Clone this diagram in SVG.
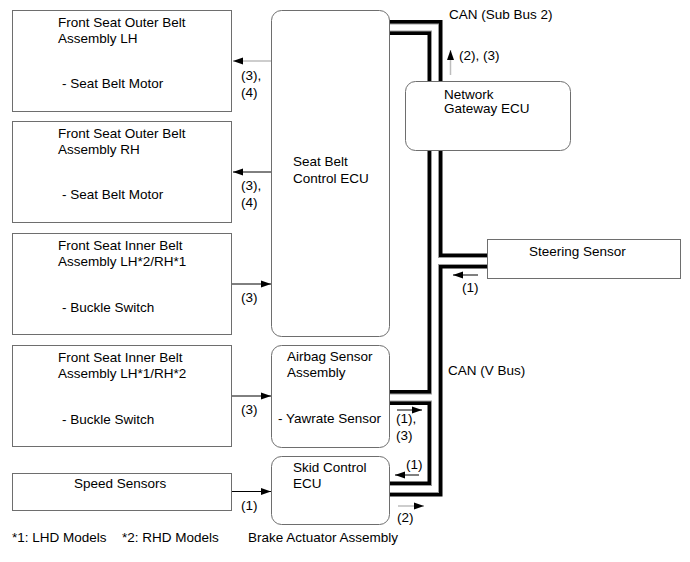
<svg xmlns="http://www.w3.org/2000/svg" width="690" height="562" viewBox="0 0 690 562">
<style>
text{font-family:"Liberation Sans",Arial,sans-serif;font-size:13.5px;fill:#000}
.box{fill:#fff;stroke:#6e6e6e;stroke-width:1}
.bk{fill:none;stroke:#000;stroke-width:15}
.gr{fill:none;stroke:#9a9a9a;stroke-width:8}
.wh{fill:none;stroke:#fff;stroke-width:6}
.a1{stroke:#000;stroke-width:1;fill:none}
.a2{stroke:#bdbdbd;stroke-width:1.5;fill:none}
</style>
<defs>
<marker id="ah" viewBox="0 0 10 8" refX="10" refY="4" markerWidth="10" markerHeight="8" markerUnits="userSpaceOnUse" orient="auto">
<path d="M0,0.5 L10,4 L0,7.5 Z" fill="#000"/>
</marker>
</defs>
<g id="connectors">
<g id="can-bus">
<path class="bk" d="M389,27.5 H435 V81"/><path class="bk" d="M435,150 V489 H389"/><path class="bk" d="M435,261 H487"/><path class="bk" d="M435,397.5 H389"/>
<path class="gr" d="M389,27.5 H435 V81"/><path class="gr" d="M435,150 V489 H389"/><path class="gr" d="M435,261 H487"/><path class="gr" d="M435,397.5 H389"/>
<path class="wh" d="M389,27.5 H435 V81"/><path class="wh" d="M435,150 V489 H389"/><path class="wh" d="M435,261 H487"/><path class="wh" d="M435,397.5 H389"/>
</g>
<path class="a2" d="M271,61 H233" marker-end="url(#ah)"/>
<path class="a1" d="M271,172 H233" marker-end="url(#ah)"/>
<path class="a1" d="M231,284 H271" marker-end="url(#ah)"/>
<path class="a1" d="M231,396 H271" marker-end="url(#ah)"/>
<path class="a1" d="M231,491.5 H271" marker-end="url(#ah)"/>
<path class="a2" d="M450.5,75 V50" marker-end="url(#ah)"/>
<path class="a1" d="M478,275 H453" marker-end="url(#ah)"/>
<path class="a1" d="M397,410 H422" marker-end="url(#ah)"/>
<path class="a1" d="M419,475 H395" marker-end="url(#ah)"/>
<path class="a2" d="M398,506 H424" marker-end="url(#ah)"/>
<text x="241" y="80">(3),</text><text x="241" y="97">(4)</text>
<text x="241" y="190">(3),</text><text x="241" y="207">(4)</text>
<text x="241" y="302">(3)</text>
<text x="241" y="414">(3)</text>
<text x="241" y="510">(1)</text>
<text x="459" y="60">(2), (3)</text>
<text x="462" y="292">(1)</text>
<text x="396" y="423">(1),</text><text x="396" y="440">(3)</text>
<text x="406" y="469">(1)</text>
<text x="397" y="522">(2)</text>
<text x="449" y="19">CAN (Sub Bus 2)</text>
<text x="448" y="375">CAN (V Bus)</text>
</g>
<g id="front-seat-outer-lh"><rect class="box" x="12.5" y="10.5" width="219" height="101"/><text x="58" y="27">Front Seat Outer Belt</text><text x="58" y="43">Assembly LH</text><text x="62" y="88">- Seat Belt Motor</text></g>
<g id="front-seat-outer-rh"><rect class="box" x="12.5" y="121.5" width="219" height="101"/><text x="58" y="138">Front Seat Outer Belt</text><text x="58" y="154">Assembly RH</text><text x="62" y="199">- Seat Belt Motor</text></g>
<g id="front-seat-inner-1"><rect class="box" x="12.5" y="233.5" width="219" height="101"/><text x="58" y="250">Front Seat Inner Belt</text><text x="58" y="266">Assembly LH*2/RH*1</text><text x="62" y="312">- Buckle Switch</text></g>
<g id="front-seat-inner-2"><rect class="box" x="12.5" y="345.5" width="219" height="101"/><text x="58" y="362">Front Seat Inner Belt</text><text x="58" y="378">Assembly LH*1/RH*2</text><text x="62" y="424">- Buckle Switch</text></g>
<g id="speed-sensors"><rect class="box" x="12.5" y="473.5" width="219" height="37"/><text x="74" y="487.5">Speed Sensors</text></g>
<g id="seat-belt-ecu"><rect class="box" x="271.5" y="10.5" width="118" height="326" rx="10"/><text x="293" y="166">Seat Belt</text><text x="293" y="183">Control ECU</text></g>
<g id="airbag-sensor"><rect class="box" x="271.5" y="345.5" width="118" height="102" rx="10"/><text x="287" y="361">Airbag Sensor</text><text x="287" y="377">Assembly</text><text x="278" y="423">- Yawrate Sensor</text></g>
<g id="skid-control-ecu"><rect class="box" x="271.5" y="456.5" width="118" height="68" rx="10"/><text x="293" y="472">Skid Control</text><text x="293" y="488">ECU</text></g>
<g id="gateway-ecu"><rect class="box" x="405.5" y="81.5" width="165" height="69" rx="10"/><text x="444" y="99">Network</text><text x="444" y="113">Gateway ECU</text></g>
<g id="steering-sensor"><rect class="box" x="487.5" y="239.5" width="193" height="39"/><text x="529" y="256">Steering Sensor</text></g>
<text x="248" y="542">Brake Actuator Assembly</text>
<text x="12" y="542">*1: LHD Models</text>
<text x="122" y="542">*2: RHD Models</text>
</svg>
